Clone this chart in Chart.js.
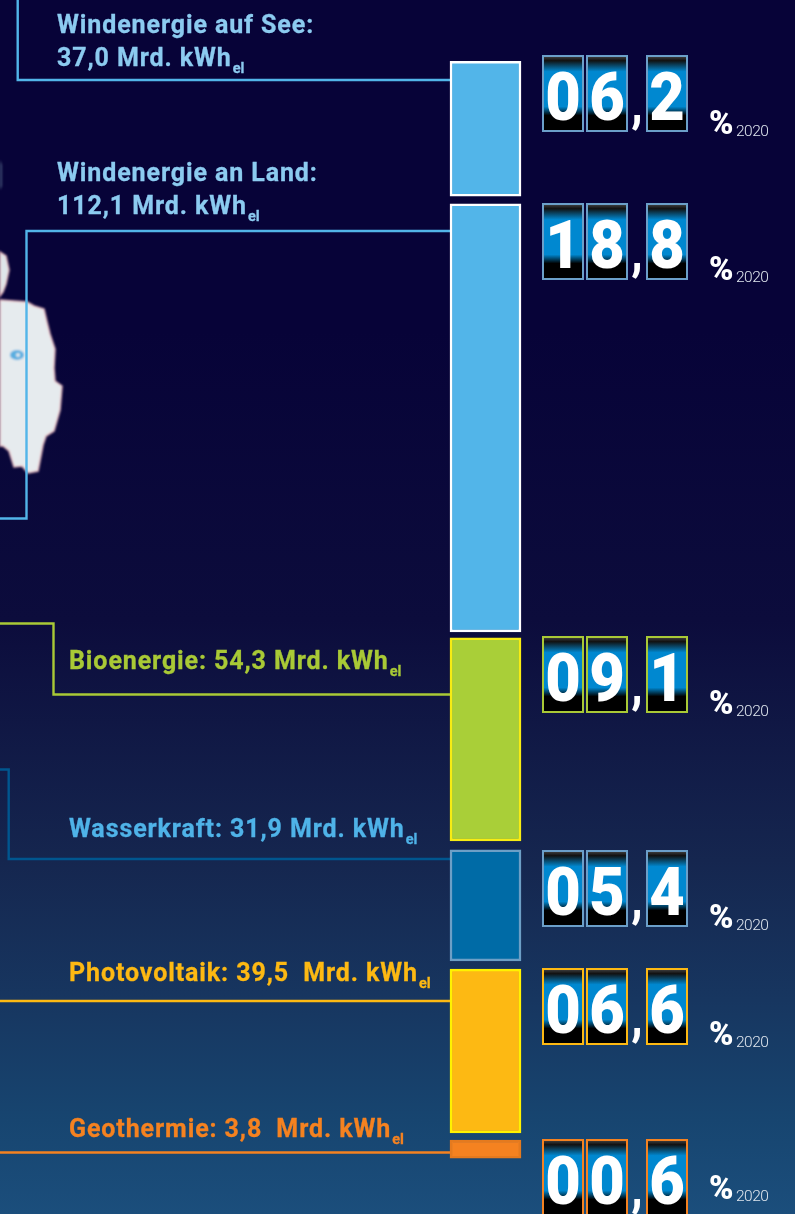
<!DOCTYPE html>
<html>
<head>
<meta charset="utf-8">
<title>Erneuerbare Energien 2020</title>
<script src="https://cdn.jsdelivr.net/npm/chart.js"></script>
<style>
  html, body { margin: 0; padding: 0; }
  body {
    position: relative; width: 795px; height: 1214px; overflow: hidden;
    background: linear-gradient(to bottom, #070338 0, #070338 330px, #0c0c3c 620px, #15264f 860px, #173660 1000px, #174570 1120px, #1b4e7c 1214px);
    font-family: Roboto, sans-serif;
  }
  #map { position: absolute; left: 0; top: 0; }
  #chart { position: absolute; left: 0; top: 0; }
  .label { position: absolute; font-weight: 700; font-size: 25px; line-height: 33px; letter-spacing: .9px; white-space: pre; -webkit-text-stroke: .3px currentColor; }
  .label small { font-size: 14.5px; letter-spacing: 0; position: relative; top: 7px; margin-left: 1px; }
  .box { position: absolute; width: 38px; height: 73px; border: 2px solid; overflow: hidden;
    background: linear-gradient(to bottom, #3a3a3a 0, #111 5%, #0088d0 20%, #0088d0 68%, #000 80%, #000 100%); }
  .digit { position: absolute; color: #fff; font-weight: 900; font-size: 66px; line-height: 77px; width: 42px; text-align: center; transform: scaleX(.93); }
  .comma { position: absolute; color: #fff; font-weight: 900; font-size: 50px; line-height: 77px; width: 42px; text-align: center; transform: scaleX(.85); }
  .pct { position: absolute; color: #fff; font-weight: 900; font-size: 33px; line-height: 32px; }
  .year { position: absolute; color: #dfe6ee; font-size: 15.5px; line-height: 16px; font-weight: 300; letter-spacing: -.5px; }
</style>
</head>
<body>
<svg id="map" width="795" height="1214">
  <defs><filter id="soft"><feGaussianBlur stdDeviation="1"/></filter></defs>
  <g filter="url(#soft)">
    <path d="M0 160 L2 165 L2 186 L0 190 Z" fill="#8fb4c4" opacity=".4"/>
    <path d="M0 252 L6 256 L9 270 L6 284 L3 292 L0 296 Z" fill="#dfe6ea" stroke="#e7b8bd" stroke-width="1.5"/>
    <path d="M0 300 L27 302 L34 306 L44 309 L47 322 L50 334 L55 349 L54 368 L55 381 L62 386 L60 410 L54 431 L46 436 L43 445 L38 471 L28 473 L22 466 L14 467 L9 451 L3 446 L0 446 Z" fill="#e6ebee" stroke="#e7b8bd" stroke-width="1.5"/>
    <ellipse cx="17" cy="355" rx="7" ry="5" fill="#5aaee0"/>
    <circle cx="18" cy="355" r="2" fill="#e6ebee"/>
  </g>
</svg>
<canvas id="chart" width="795" height="1214"></canvas>

<script>
var categories = ['Windenergie auf See', 'Windenergie an Land', 'Bioenergie', 'Wasserkraft', 'Photovoltaik', 'Geothermie'];
var energyValues = [37.0, 112.1, 54.3, 31.9, 39.5, 3.8];
var percentValues = [6.2, 18.8, 9.1, 5.4, 6.6, 0.6];
// bar lengths as they are drawn in the picture
var barLengths = [36.4, 115.7, 54.9, 30.0, 44.3, 4.9];
var percentYear = '2020';
var unitLabel = 'Mrd. kWh';

// styling and layout, one entry per category
var fillColors = ['#52b5e9', '#52b5e9', '#a9cf38', '#006ba6', '#fdb913', '#f58220'];
var edgeColors = ['#ffffff', '#ffffff', '#f7ec13', '#6d9fc6', '#fff200', '#e57a1e'];
var lineColors = ['#52b5e9', '#52b5e9', '#a9c936', '#00568f', '#fdb913', '#f58220'];
var textColors = ['#8ccbf0', '#8ccbf0', '#a9c936', '#4fb3e8', '#fdb913', '#f58220'];
var boxColors = ['#6b9fc9', '#6b9fc9', '#a9c936', '#6b9fc9', '#fdb913', '#f58220'];
var gaps = [16.6, 2.1, 1.6, 2.4, 2.2, 1.9];
var counterTops = [55, 203, 636, 850, 968, 1139];
var percentShift = [0, -2, -1, -1, -2, -19];
var labelPos = [[57, 8], [57, 156], [69, 644], [69, 812], [69, 956], [69, 1112]];
var attachOffsets = [19, 27, 56.5, 9, 32, 12.5];
var routes = [
  [[17.7, 0], [17.7, null]],
  [[0, 518.5], [26.5, 518.5], [26.5, null]],
  [[0, 623.5], [53.5, 623.5], [53.5, null]],
  [[0, 769.5], [8.7, 769.5], [8.7, null]],
  [[0, null]],
  [[0, null]]
];

var ranges = [];
var pos = 0;
for (var i = 0; i < barLengths.length; i++) {
  pos += gaps[i];
  ranges.push([pos, pos + barLengths[i]]);
  pos += barLengths[i];
}

var datasets = [];
for (var i = 0; i < categories.length; i++) {
  datasets.push({
    label: categories[i],
    data: [ranges[i]],
    backgroundColor: fillColors[i],
    borderColor: edgeColors[i],
    borderWidth: 2.5,
    borderSkipped: false,
    barThickness: 71,
    grouped: false
  });
}

// lines from the bars out to the left edge
var connectorPlugin = {
  id: 'connectors',
  beforeDatasetsDraw: function(chart) {
    var ctx = chart.ctx;
    var y = chart.scales.y;
    ctx.save();
    ctx.lineWidth = 2.4;
    for (var i = 0; i < routes.length; i++) {
      var bar = chart.getDatasetMeta(i).data[0];
      var attachY = Math.round(y.getPixelForValue(ranges[i][0])) + attachOffsets[i];
      ctx.strokeStyle = lineColors[i];
      ctx.beginPath();
      for (var j = 0; j < routes[i].length; j++) {
        var p = routes[i][j];
        var py = p[1] === null ? attachY : p[1];
        if (j == 0) ctx.moveTo(p[0], py); else ctx.lineTo(p[0], py);
      }
      ctx.lineTo(bar.x - bar.width / 2, attachY);
      ctx.stroke();
    }
    ctx.restore();
  }
};

new Chart(document.getElementById('chart'), {
  type: 'bar',
  data: { labels: [percentYear], datasets: datasets },
  options: {
    responsive: false,
    animation: false,
    layout: { padding: { left: 176 } },
    plugins: { legend: { display: false }, tooltip: { enabled: false } },
    scales: {
      x: { display: false },
      y: { display: false, reverse: true, min: 0, max: 328.1 }
    }
  },
  plugins: [connectorPlugin]
});

function add(cls, left, top, html, color) {
  var el = document.createElement('div');
  el.className = cls;
  el.style.left = left + 'px';
  el.style.top = top + 'px';
  if (color) el.style.color = color;
  el.innerHTML = html;
  document.body.appendChild(el);
  return el;
}

var boxLefts = [542, 586, 646];
for (var i = 0; i < categories.length; i++) {
  // text labels
  var num = energyValues[i].toFixed(1).replace('.', ',');
  var spacer = i >= 4 ? '  ' : ' ';
  var sub = '<small>el</small>';
  if (i < 2) {
    add('label', labelPos[i][0], labelPos[i][1], categories[i] + ':\n' + num + ' ' + unitLabel + sub, textColors[i]);
  } else {
    add('label', labelPos[i][0], labelPos[i][1], categories[i] + ': ' + num + spacer + unitLabel + sub, textColors[i]);
  }
  // counter boxes
  var text = percentValues[i].toFixed(1).padStart(4, '0').replace('.', ',');
  var digits = [text[0], text[1], text[3]];
  for (var d = 0; d < 3; d++) {
    var box = add('box', boxLefts[d], counterTops[i], '');
    box.style.borderColor = boxColors[i];
    add('digit', boxLefts[d], counterTops[i] + 4, digits[d]);
  }
  add('comma', 615.5, counterTops[i] + 11, ',');
  add('pct', 709, counterTops[i] + 52 + percentShift[i], '%');
  add('year', 736, counterTops[i] + 68 + percentShift[i], percentYear);
}
</script>
</body>
</html>
